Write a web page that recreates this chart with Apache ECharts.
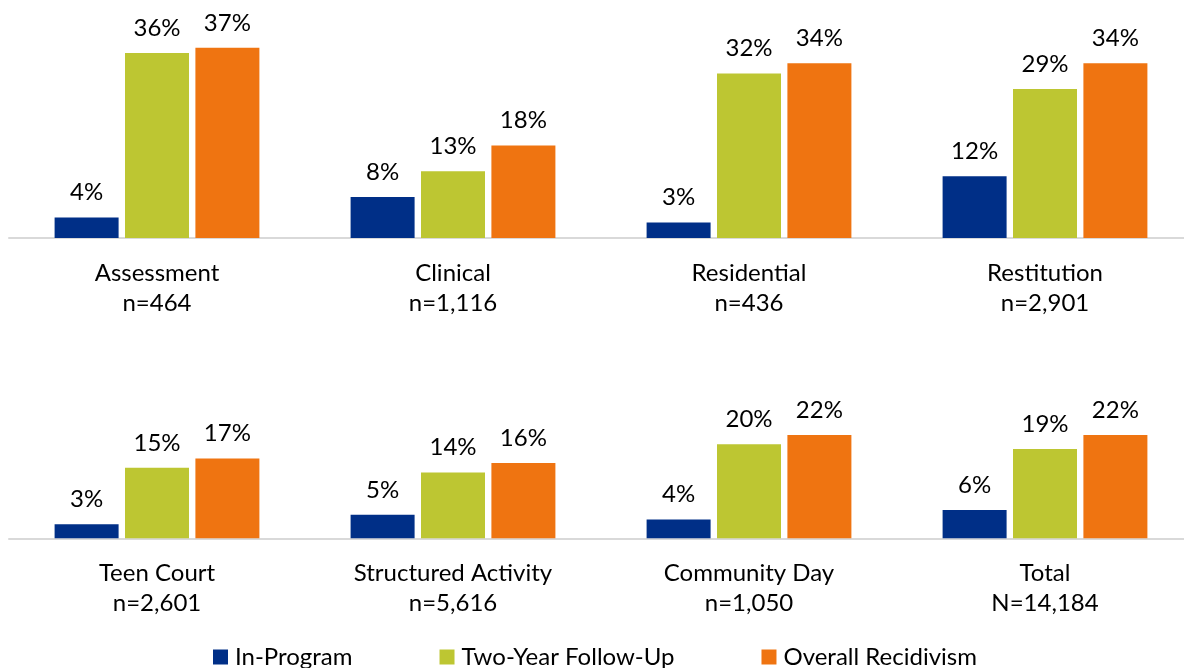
<!DOCTYPE html>
<html>
<head>
<meta charset="utf-8">
<script src="https://cdn.jsdelivr.net/npm/echarts@6/dist/echarts.min.js"></script>
<style>html,body{margin:0;padding:0;background:#fff}#chart{width:1184px;height:668px}</style>
</head>
<body>
<div id="chart"></div>
<script>
const seriesNames = ['In-Program', 'Two-Year Follow-Up', 'Overall Recidivism'];
const topCategories = ['Assessment\nn=464', 'Clinical\nn=1,116', 'Residential\nn=436', 'Restitution\nn=2,901'];
const topInProgram = [4, 8, 3, 12];
const topFollowUp = [36, 13, 32, 29];
const topOverall = [37, 18, 34, 34];
const bottomCategories = ['Teen Court\nn=2,601', 'Structured Activity\nn=5,616', 'Community Day\nn=1,050', 'Total\nN=14,184'];
const bottomInProgram = [3, 5, 4, 6];
const bottomFollowUp = [15, 14, 20, 19];
const bottomOverall = [17, 16, 22, 22];

const colors = ['#002F87', '#BDC632', '#EF7411'];
const FONT = 'Lato';

const chart = echarts.init(document.getElementById('chart'));

function xAxis(gridIndex, cats) {
  return {
    type: 'category', gridIndex, data: cats,
    axisLine: { show: true, lineStyle: { color: '#D9D9D9', width: 2 } },
    axisTick: { show: false },
    axisLabel: { color: '#000', fontFamily: FONT, fontSize: 24, lineHeight: 30, margin: 20, interval: 0 }
  };
}
function yAxis(gridIndex, max) {
  return { type: 'value', gridIndex, min: 0, max, show: false, splitLine: { show: false } };
}
function bar(name, data, idx, gridIdx) {
  return {
    name, type: 'bar', data, xAxisIndex: gridIdx, yAxisIndex: gridIdx,
    barWidth: 64, barGap: '10%',
    itemStyle: { color: colors[idx] },
    label: {
      show: true, position: 'top', distance: 13,
      formatter: p => Math.round(p.value) + '%',
      color: '#000', fontFamily: FONT, fontSize: 24, lineHeight: 24
    },
    animation: false
  };
}

chart.setOption({
  animation: false,
  color: colors,
  legend: {
    data: seriesNames,
    top: 640, left: 208,
    itemWidth: 15, itemHeight: 15, itemGap: 87,
    icon: 'rect',
    textStyle: { color: '#000', fontFamily: FONT, fontSize: 24, lineHeight: 24, padding: [0, 0, 0, 2] }
  },
  grid: [
    { left: 9, width: 1184, top: 32.4, height: 205.6, containLabel: false, outerBoundsMode: 'none' },
    { left: 9, width: 1184, top: 420.8, height: 117.5, containLabel: false, outerBoundsMode: 'none' }
  ],
  xAxis: [xAxis(0, topCategories), xAxis(1, bottomCategories)],
  yAxis: [yAxis(0, 40), yAxis(1, 25)],
  series: [
    bar(seriesNames[0], topInProgram, 0, 0),
    bar(seriesNames[1], topFollowUp, 1, 0),
    bar(seriesNames[2], topOverall, 2, 0),
    bar(seriesNames[0], bottomInProgram, 0, 1),
    bar(seriesNames[1], bottomFollowUp, 1, 1),
    bar(seriesNames[2], bottomOverall, 2, 1)
  ]
});
</script>
</body>
</html>
